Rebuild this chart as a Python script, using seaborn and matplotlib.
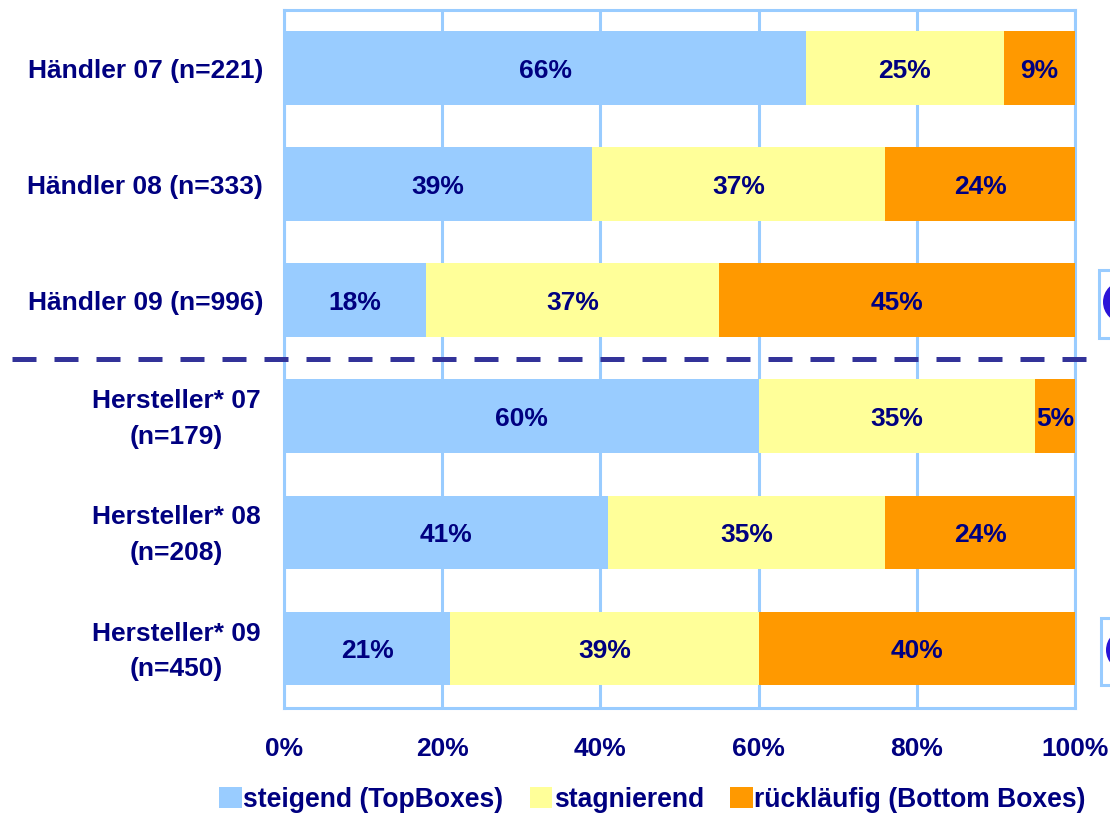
import matplotlib
matplotlib.use("Agg")
import matplotlib.pyplot as plt
from matplotlib.lines import Line2D
from matplotlib.patches import Circle, Rectangle
from matplotlib.transforms import ScaledTranslation
import pandas as pd
import seaborn as sns

groups = ["Händler 07 (n=221)", "Händler 08 (n=333)", "Händler 09 (n=996)",
          "Hersteller* 07\n(n=179)", "Hersteller* 08\n(n=208)", "Hersteller* 09\n(n=450)"]
steigend = [66, 39, 18, 60, 41, 21]
stagnierend = [25, 37, 37, 35, 35, 39]
ruecklaeufig = [9, 24, 45, 5, 24, 40]
series_names = ["steigend (TopBoxes)", "stagnierend", "rückläufig (Bottom Boxes)"]
tick_values = [0, 20, 40, 60, 80, 100]

SKY = "#99CCFF"
PALE = "#FFFF99"
ORANGE = "#FF9900"
NAVY = "#000080"
DASH = "#333399"
DISC = "#2A14D8"
FONT_PT = 19

sns.set_theme(style="white", rc={"font.family": ["Liberation Sans", "DejaVu Sans"]})

W, H = 1110, 813
fig = plt.figure(figsize=(W / 100, H / 100), dpi=100, facecolor="white")
ax = fig.add_axes([284 / W, 1 - 708 / H, 791 / W, 698 / H])

df = pd.DataFrame({"group": groups, "a": steigend, "b": stagnierend, "c": ruecklaeufig})
df["upto_b"] = df["a"] + df["b"]
df["upto_c"] = df["upto_b"] + df["c"]

# Stack by overdrawing cumulative bars, longest first
for col, color, name in [("upto_c", ORANGE, series_names[2]),
                         ("upto_b", PALE, series_names[1]),
                         ("a", SKY, series_names[0])]:
    sns.barplot(data=df, y="group", x=col, color=color, width=0.635,
                saturation=1, linewidth=0, label=name, ax=ax, zorder=3, legend=False)

# Segment value labels
for i, row in df.iterrows():
    starts = [0, row["a"], row["upto_b"]]
    for start, value in zip(starts, [row["a"], row["b"], row["c"]]):
        ax.annotate(f"{value}%", (start + value / 2, i), xytext=(0, -2),
                    textcoords="offset points", ha="center", va="center",
                    color=NAVY, fontsize=FONT_PT, fontweight="bold", zorder=5)

handles, labels = ax.get_legend_handles_labels()
if ax.get_legend() is not None:
    ax.get_legend().remove()

ax.set_xlim(0, 100)
ax.set_ylim(5.512, -0.4996)
ax.set_xlabel("")
ax.set_ylabel("")
ax.set_xticks(tick_values)
ax.set_xticklabels([f"{v}%" for v in tick_values])
ax.grid(axis="x", color=SKY, linewidth=2.2, zorder=1)
ax.set_axisbelow(True)
for spine in ax.spines.values():
    spine.set_color(SKY)
    spine.set_linewidth(2.2)
ax.tick_params(axis="x", length=0, pad=21, labelcolor=NAVY, labelsize=FONT_PT)
ax.tick_params(axis="y", length=0, pad=15, labelcolor=NAVY, labelsize=FONT_PT)
for lab in ax.get_xticklabels() + ax.get_yticklabels():
    lab.set_fontweight("bold")
    lab.set_clip_on(False)

# Two-line group labels sit slightly higher and further from the frame
nudge = ScaledTranslation(-2.5 / 100, 5.5 / 100, fig.dpi_scale_trans)
for lab in ax.get_yticklabels():
    lab.set_multialignment("center")
    lab.set_linespacing(1.62)
    if "\n" in lab.get_text():
        lab.set_transform(lab.get_transform() + nudge)

# Divider between the two respondent groups
fig.add_artist(Line2D([12 / W, 1087 / W], [1 - 359 / H] * 2, color=DASH, linewidth=3.6,
                      linestyle=(0, (4.8, 3.6)), transform=fig.transFigure, zorder=6))

# Callout boxes running off the right edge
for x0, y0, y1, cy, cx in [(1099, 270, 338, 302, 1124), (1101, 618, 685, 650, 1127)]:
    fig.add_artist(Rectangle((x0 / W, 1 - y1 / H), 60 / W, (y1 - y0) / H,
                             transform=fig.transFigure, facecolor="white",
                             edgecolor=SKY, linewidth=2.2))
    fig.add_artist(Circle((cx, H - cy), 21, transform=None, facecolor=DISC, edgecolor="none"))

order = [labels.index(n) for n in series_names]
fig.legend([handles[i] for i in order], [labels[i] for i in order], ncols=3,
           loc="center left", bbox_to_anchor=(219 / W, 1 - 800 / H), frameon=False,
           labelcolor=NAVY, prop={"weight": "bold", "size": FONT_PT + 0.1},
           handlelength=0.85, handleheight=0.85, handletextpad=0.07, columnspacing=0.98,
           borderpad=0, borderaxespad=0)

fig.savefig("out.png", dpi=100, facecolor="white")
